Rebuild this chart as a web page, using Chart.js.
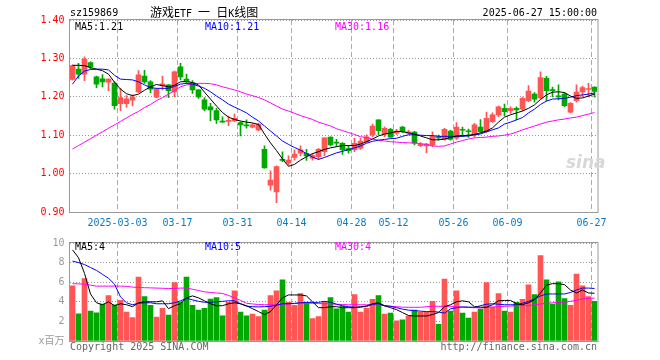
<!DOCTYPE html>
<html>
<head>
<meta charset="utf-8">
<script src="https://cdn.jsdelivr.net/npm/chart.js@4.4.1/dist/chart.umd.min.js"></script>
<style>
    body { margin: 0; background: #fff; }
    #wrap { position: relative; width: 660px; height: 360px; overflow: hidden; font-family: 'DejaVu Sans Mono', monospace; font-size: 10px; }
    canvas { position: absolute; left: 0; }
    .txt { position: absolute; white-space: nowrap; line-height: 12px; }
    .cjk { font-family: 'Noto Sans CJK SC', sans-serif; font-size: 12px; }
</style>
</head>
<body>
<div id="wrap">
    <canvas id="kline" width="660" height="232" style="top:0"></canvas>
    <canvas id="vol" width="660" height="128" style="top:232px"></canvas>

    <div class="txt" style="left:70px;top:7px">sz159869</div>
    <div class="txt" style="left:150px;top:6px"><span class="cjk">游戏</span>ETF <span class="cjk">一</span> <span class="cjk">日</span>K<span class="cjk">线图</span></div>
    <div class="txt" style="right:63px;top:7px">2025-06-27 15:00:00</div>

    <div class="txt" style="left:75px;top:21px;color:#000">MA5:1.21</div>
    <div class="txt" style="left:205px;top:21px;color:#0000ff">MA10:1.21</div>
    <div class="txt" style="left:335px;top:21px;color:#ff00ff">MA30:1.16</div>

    <div class="txt" style="left:75px;top:241px;color:#000">MA5:4</div>
    <div class="txt" style="left:205px;top:241px;color:#0000ff">MA10:5</div>
    <div class="txt" style="left:335px;top:241px;color:#ff00ff">MA30:4</div>

    <div class="txt" style="left:566px;top:152px;font:italic bold 17px 'DejaVu Sans',sans-serif;color:#d8d8d8">sina</div>

    <div class="txt" style="left:70px;top:341px;color:#666">Copyright 2025 SINA.COM</div>
    <div class="txt" style="right:63px;top:341px;color:#666">http://finance.sina.com.cn</div>
</div>

<script>
// 交易日
const dates = [
    '2025-02-19','2025-02-20','2025-02-21','2025-02-24','2025-02-25','2025-02-26','2025-02-27','2025-02-28',
    '2025-03-03','2025-03-04','2025-03-05','2025-03-06','2025-03-07','2025-03-10','2025-03-11','2025-03-12',
    '2025-03-13','2025-03-14','2025-03-17','2025-03-18','2025-03-19','2025-03-20','2025-03-21','2025-03-24',
    '2025-03-25','2025-03-26','2025-03-27','2025-03-28','2025-03-31',
    '2025-04-01','2025-04-02','2025-04-03','2025-04-07','2025-04-08','2025-04-09','2025-04-10','2025-04-11',
    '2025-04-14','2025-04-15','2025-04-16','2025-04-17','2025-04-18','2025-04-21','2025-04-22','2025-04-23',
    '2025-04-24','2025-04-25','2025-04-28','2025-04-29','2025-04-30',
    '2025-05-06','2025-05-07','2025-05-08','2025-05-09','2025-05-12','2025-05-13','2025-05-14','2025-05-15',
    '2025-05-16','2025-05-19','2025-05-20','2025-05-21','2025-05-22','2025-05-23','2025-05-26','2025-05-27',
    '2025-05-28','2025-05-29','2025-05-30',
    '2025-06-03','2025-06-04','2025-06-05','2025-06-06','2025-06-09','2025-06-10','2025-06-11','2025-06-12',
    '2025-06-13','2025-06-16','2025-06-17','2025-06-18','2025-06-19','2025-06-20','2025-06-23','2025-06-24',
    '2025-06-25','2025-06-26','2025-06-27'
];

const tickDates = ['2025-03-03','2025-03-17','2025-03-31','2025-04-14','2025-04-28','2025-05-12','2025-05-26','2025-06-09','2025-06-27'];

const open = [
    1.245,1.272,1.259,1.289,1.252,1.247,1.238,1.236,1.182,1.182,1.191,1.213,1.254,1.239,1.199,1.229,
    1.231,1.213,1.278,1.246,1.237,1.218,1.192,1.174,1.164,1.137,1.136,1.137,1.133,1.127,1.121,1.114,
    1.063,0.970,0.952,1.037,1.027,1.042,1.053,1.053,1.040,1.044,1.057,1.095,1.082,1.079,1.065,1.062,
    1.066,1.083,1.101,1.140,1.103,1.115,1.105,1.121,1.105,1.108,1.073,1.072,1.075,1.096,1.089,1.111,
    1.092,1.115,1.111,1.101,1.121,1.109,1.135,1.153,1.170,1.164,1.170,1.168,1.190,1.207,1.197,1.248,
    1.219,1.201,1.207,1.160,1.190,1.213,1.219,1.225
];
const close = [
    1.281,1.259,1.298,1.278,1.233,1.239,1.246,1.177,1.198,1.195,1.199,1.257,1.239,1.220,1.220,1.234,
    1.216,1.265,1.252,1.239,1.218,1.200,1.168,1.166,1.140,1.134,1.138,1.144,1.127,1.124,1.127,1.128,
    1.015,0.983,1.018,1.034,1.035,1.051,1.062,1.046,1.047,1.063,1.093,1.075,1.079,1.062,1.060,1.079,
    1.085,1.096,1.124,1.112,1.118,1.095,1.111,1.109,1.109,1.079,1.076,1.077,1.098,1.093,1.115,1.089,
    1.121,1.113,1.109,1.127,1.109,1.144,1.153,1.174,1.161,1.170,1.166,1.196,1.215,1.194,1.250,1.216,
    1.216,1.200,1.177,1.183,1.212,1.224,1.221,1.214
];
const high = [
    1.283,1.287,1.304,1.291,1.254,1.258,1.247,1.239,1.222,1.203,1.205,1.268,1.269,1.242,1.222,1.254,
    1.232,1.267,1.287,1.259,1.242,1.219,1.198,1.183,1.170,1.148,1.150,1.155,1.135,1.140,1.130,1.131,
    1.072,1.007,1.020,1.057,1.046,1.062,1.072,1.063,1.053,1.066,1.093,1.096,1.089,1.081,1.072,1.092,
    1.092,1.101,1.129,1.140,1.122,1.118,1.115,1.123,1.113,1.110,1.081,1.079,1.109,1.100,1.118,1.113,
    1.133,1.121,1.116,1.131,1.141,1.160,1.158,1.176,1.181,1.174,1.174,1.199,1.229,1.211,1.265,1.253,
    1.225,1.231,1.211,1.185,1.231,1.228,1.235,1.226
];
const low = [
    1.243,1.248,1.242,1.272,1.224,1.226,1.216,1.168,1.164,1.173,1.176,1.211,1.235,1.211,1.197,1.218,
    1.198,1.200,1.244,1.235,1.209,1.196,1.163,1.137,1.131,1.134,1.125,1.135,1.098,1.118,1.119,1.111,
    1.014,0.957,0.924,1.031,1.022,1.035,1.046,1.034,1.035,1.037,1.046,1.072,1.070,1.050,1.053,1.057,
    1.063,1.081,1.096,1.101,1.096,1.094,1.102,1.107,1.102,1.075,1.070,1.054,1.070,1.087,1.087,1.087,
    1.089,1.096,1.094,1.095,1.107,1.107,1.133,1.148,1.150,1.157,1.140,1.163,1.187,1.186,1.194,1.189,
    1.200,1.192,1.174,1.158,1.186,1.200,1.200,1.199
];

// 均线
const ma5 = [
    1.282,1.282,1.281,1.276,1.272,1.268,1.259,1.238,1.220,1.208,1.203,1.207,1.217,1.226,1.232,1.229,
    1.226,1.230,1.239,1.240,1.237,1.231,1.212,1.194,1.176,1.159,1.147,1.141,1.137,1.134,1.132,1.128,
    1.103,1.080,1.060,1.038,1.019,1.024,1.035,1.044,1.052,1.057,1.063,1.067,1.070,1.073,1.073,1.073,
    1.077,1.083,1.090,1.098,1.103,1.106,1.110,1.109,1.106,1.103,1.098,1.093,1.088,1.088,1.090,1.094,
    1.098,1.099,1.100,1.102,1.106,1.111,1.119,1.134,1.147,1.153,1.158,1.163,1.170,1.179,1.193,1.205,
    1.212,1.213,1.211,1.202,1.196,1.197,1.202,1.207
];
const ma10 = [
    1.233,1.254,1.267,1.271,1.272,1.272,1.270,1.256,1.246,1.245,1.244,1.239,1.231,1.224,1.222,1.222,
    1.222,1.227,1.233,1.235,1.233,1.228,1.222,1.213,1.202,1.192,1.181,1.173,1.166,1.158,1.147,1.137,
    1.124,1.111,1.098,1.085,1.076,1.068,1.061,1.052,1.043,1.037,1.042,1.048,1.054,1.058,1.063,1.067,
    1.072,1.079,1.084,1.087,1.089,1.091,1.092,1.097,1.101,1.101,1.100,1.099,1.099,1.097,1.097,1.097,
    1.097,1.097,1.098,1.101,1.103,1.109,1.114,1.119,1.129,1.134,1.140,1.146,1.158,1.168,1.180,1.189,
    1.194,1.195,1.196,1.199,1.203,1.205,1.207,1.210
];
const ma30 = [
    1.064,1.073,1.082,1.091,1.100,1.109,1.118,1.127,1.136,1.145,1.154,1.162,1.172,1.180,1.190,1.198,
    1.207,1.216,1.226,1.231,1.233,1.235,1.235,1.234,1.231,1.226,1.222,1.218,1.213,1.207,1.203,1.198,
    1.192,1.184,1.176,1.168,1.163,1.157,1.151,1.146,1.141,1.134,1.129,1.124,1.117,1.112,1.107,1.102,
    1.096,1.094,1.090,1.087,1.085,1.083,1.082,1.081,1.080,1.080,1.078,1.076,1.072,1.071,1.072,1.077,
    1.082,1.086,1.090,1.093,1.094,1.095,1.097,1.098,1.100,1.103,1.108,1.114,1.119,1.124,1.129,1.134,
    1.137,1.140,1.142,1.145,1.147,1.151,1.155,1.159
];

// 成交量 (百万)
const volume = [
    5.63,2.78,6.36,3.05,2.88,3.77,4.64,3.68,4.14,2.95,2.38,6.52,4.54,3.64,2.45,3.34,
    2.65,5.96,3.97,6.52,3.64,3.15,3.34,4.27,4.44,2.58,3.94,5.13,2.95,2.58,2.75,2.48,
    3.15,4.64,5.13,6.23,3.94,3.64,4.83,3.94,2.28,2.48,4.04,4.44,3.28,3.54,2.95,4.74,
    2.95,3.34,4.24,4.64,2.75,2.85,2.05,2.15,2.55,3.15,2.95,2.95,4.04,1.69,6.32,3.05,
    5.13,2.85,2.35,2.95,3.25,5.96,3.44,4.83,3.05,2.95,3.94,4.24,5.73,4.74,8.71,6.23,
    3.77,6.03,4.34,3.64,6.82,5.63,4.54,4.04
];
const volMa5 = [
    9.30,8.50,6.90,4.80,3.90,3.70,4.00,3.60,3.80,3.70,3.50,3.90,4.00,4.00,4.00,4.10,
    3.30,3.60,3.80,4.40,4.60,4.40,4.10,3.80,3.60,3.60,3.80,3.90,3.80,3.60,3.30,3.00,
    2.70,3.00,3.70,4.40,4.70,4.70,4.70,4.60,4.00,3.40,3.40,3.50,3.50,3.40,3.40,3.40,
    3.50,3.50,3.80,3.90,3.60,3.40,3.20,2.90,2.60,2.55,2.55,2.55,2.70,2.90,3.50,3.70,
    4.00,4.10,4.00,3.50,3.45,3.45,3.70,4.10,4.14,4.14,3.80,3.70,3.90,4.20,4.90,5.70,
    5.85,5.85,5.75,5.20,4.90,5.20,4.90,4.87
];
const volMa10 = [
    8.15,8.00,7.80,7.50,7.20,6.80,6.40,5.80,4.50,3.90,3.70,3.85,3.90,3.90,3.80,3.80,
    3.80,3.90,4.10,4.35,4.20,4.05,3.95,3.95,4.00,4.05,4.10,4.10,3.80,3.55,3.50,3.48,
    3.50,3.54,3.65,3.80,3.80,3.85,3.90,3.94,3.94,3.94,4.05,3.95,3.75,3.60,3.50,3.45,
    3.44,3.60,3.75,3.80,3.60,3.54,3.40,3.25,3.15,3.10,3.05,3.00,3.00,2.95,2.85,3.28,
    3.40,3.48,3.46,3.44,3.60,3.75,3.80,3.75,3.70,3.70,3.70,3.85,4.04,4.30,4.60,4.80,
    4.80,4.80,4.80,4.95,5.20,5.40,5.40,5.36
];
const volMa30 = [
    5.85,5.83,5.80,5.70,5.60,5.60,5.60,5.60,5.60,5.58,5.50,5.46,5.44,5.42,5.40,5.38,
    5.36,5.36,5.40,5.40,5.28,5.15,5.02,4.95,4.90,4.85,4.65,4.40,4.15,3.85,3.78,3.72,
    3.70,3.70,3.70,3.75,3.80,3.82,3.85,3.87,3.85,3.82,3.80,3.80,3.75,3.72,3.70,3.70,
    3.70,3.70,3.70,3.68,3.60,3.55,3.50,3.45,3.44,3.44,3.44,3.50,3.54,3.54,3.54,3.54,
    3.50,3.45,3.42,3.40,3.38,3.42,3.48,3.50,3.54,3.56,3.60,3.60,3.60,3.70,3.78,3.85,
    3.90,3.94,3.95,4.05,4.15,4.30,4.37,4.37
];

const UP = '#ff5555';
const DOWN = '#00a800';
const candleColors = close.map((c, i) => c >= open[i] ? UP : DOWN);

Chart.defaults.font.family = "'DejaVu Sans Mono', 'Noto Sans CJK SC', monospace";
Chart.defaults.font.size = 10;

// 边框
const framePlugin = {
    id: 'frame',
    afterDraw(chart) {
        const a = chart.chartArea;
        const ctx = chart.ctx;
        ctx.save();
        ctx.strokeStyle = '#999';
        ctx.lineWidth = 1;
        ctx.strokeRect(Math.round(a.left) - 0.5, Math.round(a.top) - 0.5,
            Math.round(a.right) - Math.round(a.left) + 0.5, Math.round(a.bottom) - Math.round(a.top) + 1);
        ctx.restore();
    }
};

function xScale(showTicks) {
    return {
        offset: true,
        grid: {
            offset: true,
            drawTicks: false,
            color: (c) => (c.index < dates.length && tickDates.includes(dates[c.index])) ? '#aaa' : 'transparent'
        },
        border: { display: false, dash: [5, 3] },
        ticks: {
            display: showTicks,
            autoSkip: false,
            maxRotation: 0,
            padding: 5,
            labelOffset: -3,
            color: '#0a7bc4',
            callback: (v, i) => {
                const d = dates[i];
                if (!tickDates.includes(d)) return '';
                return d === tickDates[0] ? d : d.slice(5);
            }
        },
        afterFit: (s) => { s.height = showTicks ? 20 : 0; }
    };
}

function maLine(data, color) {
    return {
        type: 'line', data: data, borderColor: color, borderWidth: 1,
        pointRadius: 0, tension: 0, order: 0
    };
}

// K线图
new Chart(document.getElementById('kline'), {
    type: 'bar',
    data: {
        labels: dates,
        datasets: [
            maLine(ma5, '#000000'),
            maLine(ma10, '#0000ff'),
            maLine(ma30, '#ff00ff'),
            {
                label: 'body',
                data: open.map((o, i) => [o, close[i]]),
                backgroundColor: candleColors,
                barThickness: 5,
                minBarLength: 1,
                grouped: false,
                order: 1
            },
            {
                label: 'wick',
                data: low.map((l, i) => [l, high[i]]),
                backgroundColor: candleColors,
                barThickness: 1,
                grouped: false,
                order: 2
            }
        ]
    },
    options: {
        responsive: false,
        animation: false,
        devicePixelRatio: 1,
        layout: { padding: { left: 0, right: 62.5, top: 20, bottom: 0 } },
        scales: {
            x: xScale(true),
            y: {
                min: 0.9,
                max: 1.4,
                grid: { color: '#999', drawTicks: false },
                border: { display: false, dash: [1, 2] },
                ticks: {
                    stepSize: 0.1,
                    padding: 5,
                    color: '#ff0000',
                    callback: (v) => v.toFixed(2)
                },
                afterFit: (s) => { s.width = 69.5; }
            }
        },
        plugins: { legend: { display: false }, tooltip: { enabled: false } }
    },
    plugins: [framePlugin]
});

// 成交量
new Chart(document.getElementById('vol'), {
    type: 'bar',
    data: {
        labels: dates,
        datasets: [
            maLine(volMa5, '#000000'),
            maLine(volMa10, '#0000ff'),
            maLine(volMa30, '#ff00ff'),
            {
                label: 'volume',
                data: volume,
                backgroundColor: candleColors,
                barThickness: 5,
                grouped: false,
                order: 1
            }
        ]
    },
    options: {
        responsive: false,
        animation: false,
        devicePixelRatio: 1,
        layout: { padding: { left: 0, right: 62.5, top: 8, bottom: 19 } },
        scales: {
            x: xScale(false),
            y: {
                min: 0,
                max: 10,
                grid: { color: '#999', drawTicks: false },
                border: { display: false, dash: [1, 2] },
                ticks: {
                    stepSize: 2,
                    padding: 5,
                    color: '#999',
                    callback: (v) => v === 0 ? 'x百万' : v
                },
                afterFit: (s) => { s.width = 69.5; }
            }
        },
        plugins: { legend: { display: false }, tooltip: { enabled: false } }
    },
    plugins: [framePlugin]
});
</script>
</body>
</html>
